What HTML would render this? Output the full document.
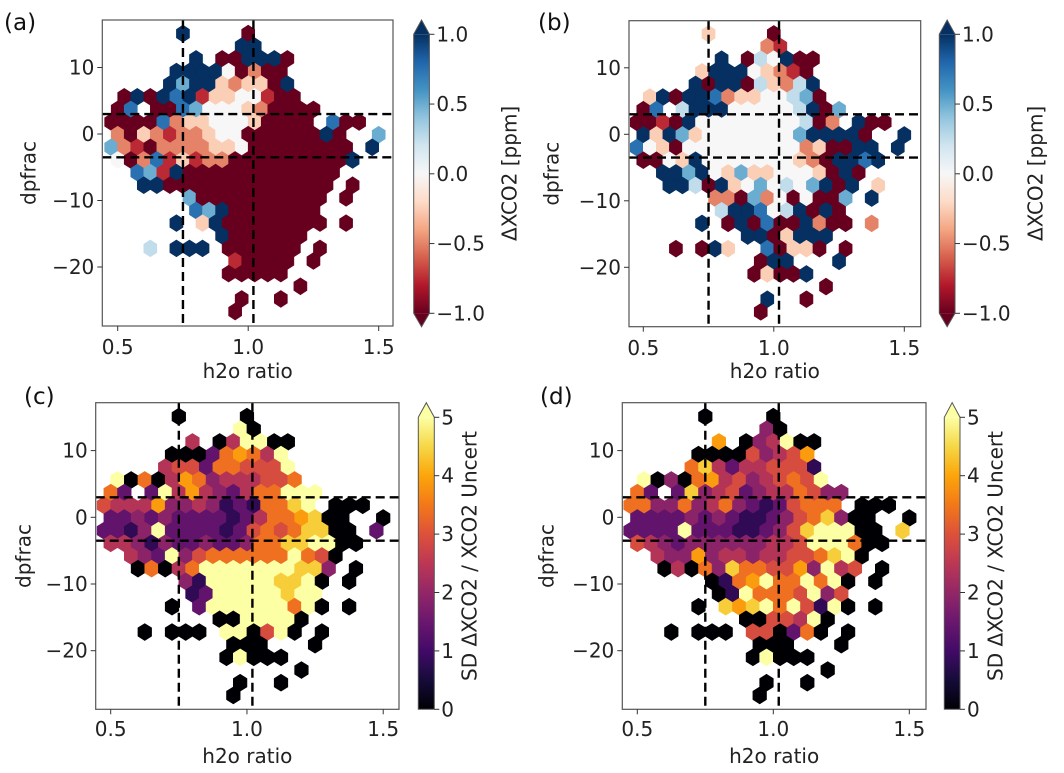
<!DOCTYPE html>
<html><head><meta charset="utf-8">
<style>
html,body{margin:0;padding:0;background:#fff;}
svg{display:block;font-family:"DejaVu Sans","Liberation Sans",sans-serif;}
</style></head>
<body>
<svg id="fig" width="1064" height="773" viewBox="0 0 1064 773" xmlns="http://www.w3.org/2000/svg"></svg>
<script>
// ---- grid definition (hexbin lattice) ----
const gridY0 = 15.1, gridDY = 1.9, gridX0 = 0.75, gridDX = 0.05, gridKMin = -6;
const vLines = [0.75, 1.02];
const hLines = [3, -3.5];
const xTicks = [0.5, 1.0, 1.5];
const xTickLabels = ["0.5", "1.0", "1.5"];
const yTicks = [10, 0, -10, -20];
const yTickLabels = ["10", "0", "\u221210", "\u221220"];
const cbTicksRdBu = [1.0, 0.5, 0.0, -0.5, -1.0];
const cbTickLabelsRdBu = ["1.0", "0.5", "0.0", "\u22120.5", "\u22121.0"];
const cbTicksSD = [5, 4, 3, 2, 1, 0];
const cbTickLabelsSD = ["5", "4", "3", "2", "1", "0"];
const levelsRdBu = [-1, -0.75, -0.5, -0.25, 0, 0.25, 0.5, 0.75, 1];
const levelsSD = [0, 0.8, 1.4, 1.9, 2.4, 2.9, 3.4, 3.9, 4.4, 5];

// ---- hex values per row (row r: y = 15.1 - 1.9 r; column i: k = i-6) ----
const rowsA = [
"......8....0..........",
"..........88..........",
".......8.008880.......",
".....888840200........",
".....8688323308.......",
".08087813344100.......",
".07.0076444320000.....",
"0000723344430000.700..",
".203212234400000080..6",
"6210222233400000000.8.",
".4027131220000000008..",
"..7618000000000000....",
"...880000000000000.0..",
"......60000000000.0...",
".......7680000000.....",
".....8.3800000000.0...",
".........8000000......",
"...5.888.000000.0.....",
"..........10000.0.....",
".........00000........",
"...............0......",
"..........0..0........",
"..........0..........."
];
const rowsB = [
"......3....0..........",
"..........21..........",
".......8.054800.......",
".....388843210........",
".....8088053258.......",
".38088723344560.......",
".07.5888444445806.....",
"0010844444444502.800..",
".838634444444688880..8",
"7430444444444230088.8.",
".0043844444443208878..",
"..8868436334443080....",
"...885083464546808.3..",
"......22062404006.8...",
".......5887458080.....",
".....8.0807008200.2...",
".........8803888......",
"...0.083..70330.0.....",
"..........088...8.....",
".........03008........",
"...............0......",
"..........8..0........",
"..........0..........."
];
const rowsC = [
"......0....0..........",
"..........90..........",
".......4.049900.......",
".....000267649........",
".....4552665559.......",
".90604763444556.......",
".62.2947432466999.....",
"5444733431216689.000..",
".223232222124667800..0",
"2213922221256568800.2.",
".4431322322366889900..",
"..4329356666669650....",
"...060469999999883.0..",
"......31999998890.0...",
".......1299999899.....",
".....0.2999999690.0...",
".........0099990......",
"...0.000.990590.0.....",
"..........000...0.....",
".........09000........",
"...............0......",
"..........0..0........",
"..........0..........."
];
const rowsD = [
"......0....0..........",
"..........30..........",
".......7.034900.......",
".....000053457........",
".....6842445551.......",
".90306745345659.......",
".62.2834523446533.....",
"6633634632125666.000..",
".222232321123568300..0",
"2222922211235899900.8.",
".5432333333445999600..",
"..4337344344556890....",
"...040638665573945.0..",
"......01679669690.0...",
".......0196665935.....",
".....0.8789695190.0...",
".........0055490......",
"...0.000.550260.0.....",
"..........000...0.....",
".........09000........",
"...............0......",
"..........0..0........",
"..........0..........."
];

// ---- colormaps ----
const RDBU = ["#67001f","#b2182b","#d6604d","#f4a582","#fddbc7","#f7f7f7","#d1e5f0","#92c5de","#4393c3","#2166ac","#053061"];
const INFERNO = ["#000004","#160b39","#420a68","#6a176e","#932667","#bc3754","#dd513a","#f37819","#fca50a","#f6d746","#fcffa4"];
function hex2rgb(h){return [parseInt(h.substr(1,2),16),parseInt(h.substr(3,2),16),parseInt(h.substr(5,2),16)];}
function cmap(stops,t){
  t=Math.max(0,Math.min(1,t));
  const p=t*(stops.length-1), i=Math.min(Math.floor(p),stops.length-2), f=p-i;
  const a=hex2rgb(stops[i]), b=hex2rgb(stops[i+1]);
  return "rgb("+a.map((v,j)=>Math.round(v+(b[j]-v)*f)).join(",")+")";
}

const NS="http://www.w3.org/2000/svg";
const fig=document.getElementById('fig');
function mk(tag,attrs,parent){
  const e=document.createElementNS(NS,tag);
  for(const k in attrs) e.setAttribute(k,attrs[k]);
  (parent||fig).appendChild(e);
  return e;
}

const panels=[
 {id:"a",label:"(a)",lx:4,ly:30,rows:rowsA,levels:levelsRdBu,cm:RDBU,vmin:-1,vmax:1,
  L:102.3,R:393,T:20,B:326,x05:117.7,xs:261,y0px:134,ys:6.65,
  cbL:413.7,cbR:429.4,cbTop:34.3,cbBot:313.3,tipTop:20,tipBot:326.7,
  cbTicks:cbTicksRdBu,cbLabels:cbTickLabelsRdBu,cbTitle:"\u0394XCO2 [ppm]",cbTitleX:511,
  yLabX:30,xLabY:378,xTickY:354},
 {id:"b",label:"(b)",lx:538,ly:30,rows:rowsB,levels:levelsRdBu,cm:RDBU,vmin:-1,vmax:1,
  L:629,R:920.7,T:20.7,B:326.7,x05:643.3,xs:261,y0px:134.3,ys:6.65,
  cbL:939.3,cbR:955,cbTop:34.3,cbBot:313.3,tipTop:20,tipBot:326.7,
  cbTicks:cbTicksRdBu,cbLabels:cbTickLabelsRdBu,cbTitle:"\u0394XCO2 [ppm]",cbTitleX:1037,
  yLabX:553,xLabY:378,xTickY:355},
 {id:"c",label:"(c)",lx:24,ly:404,rows:rowsC,levels:levelsSD,cm:INFERNO,vmin:0,vmax:5,
  L:95.7,R:399,T:402.7,B:709.3,x05:110.7,xs:272.5,y0px:517.3,ys:6.67,
  cbL:418.3,cbR:434.3,cbTop:417.3,cbBot:709.3,tipTop:402.7,tipBot:null,
  cbTicks:cbTicksSD,cbLabels:cbTickLabelsSD,cbTitle:"SD \u0394XCO2 / XCO2 Uncert",cbTitleX:471,
  yLabX:25,xLabY:763,xTickY:736},
 {id:"d",label:"(d)",lx:540,ly:404,rows:rowsD,levels:levelsSD,cm:INFERNO,vmin:0,vmax:5,
  L:622.3,R:926,T:402.7,B:709.3,x05:637.3,xs:272,y0px:517.3,ys:6.67,
  cbL:944.3,cbR:960,cbTop:417.3,cbBot:709.3,tipTop:402.7,tipBot:null,
  cbTicks:cbTicksSD,cbLabels:cbTickLabelsSD,cbTitle:"SD \u0394XCO2 / XCO2 Uncert",cbTitleX:997,
  yLabX:548,xLabY:763,xTickY:736}
];

panels.forEach(P=>{
  const sx=x=>P.x05+(x-0.5)*P.xs;
  const sy=y=>P.y0px-y*P.ys;
  const g=mk('g',{});
  
  
  const cp=mk('clipPath',{id:'clip-'+P.id},g);
  mk('rect',{x:P.L,y:P.T,width:P.R-P.L,height:P.B-P.T},cp);
  const hexG=mk('g',{'clip-path':'url(#clip-'+P.id+')'},g);
  
  
  const hw=(sx(gridDX)-sx(0))/2, hv=(sy(0)-sy(gridDY))*2/3;
  P.rows.forEach((row,r)=>{
    const yv=gridY0-gridDY*r;
    for(let i=0;i<row.length;i++){
      const ch=row[i]; if(ch==='.') continue;
      const k=i+gridKMin;
      const xv=gridX0+gridDX*k+(r%2?gridDX/2:0);
      const val=P.levels[parseInt(ch,10)];
      const col=cmap(P.cm,(val-P.vmin)/(P.vmax-P.vmin));
      const cx=sx(xv), cy=sy(yv);
      const pts=[[cx,cy-hv],[cx+hw,cy-hv/2],[cx+hw,cy+hv/2],[cx,cy+hv],[cx-hw,cy+hv/2],[cx-hw,cy-hv/2]]
        .map(p=>p[0].toFixed(2)+","+p[1].toFixed(2)).join(" ");
      const h=mk('polygon',{points:pts,fill:col,stroke:col,'stroke-width':0.6},hexG);
      
      
    }
  });
  vLines.forEach(v=>{
    const l=mk('line',{x1:sx(v),x2:sx(v),y1:P.T,y2:P.B,stroke:'#000','stroke-width':2.4,'stroke-dasharray':'9,5'},g);
    
    
  });
  hLines.forEach(v=>{
    const l=mk('line',{x1:P.L,x2:P.R,y1:sy(v),y2:sy(v),stroke:'#000','stroke-width':2.4,'stroke-dasharray':'9,5'},g);
    
    
  });
  const fr=mk('rect',{x:P.L,y:P.T,width:P.R-P.L,height:P.B-P.T,fill:'none',stroke:'#555','stroke-width':1.2},g);
  
  
  xTicks.forEach((t,j)=>{
    mk('line',{x1:sx(t),x2:sx(t),y1:P.B,y2:P.B+5,stroke:'#333','stroke-width':1},g);
    const tx=mk('text',{x:sx(t),y:P.xTickY,'font-size':20,'text-anchor':'middle',fill:'#222'},g);
    tx.textContent=xTickLabels[j];
    
    
  });
  yTicks.forEach((t,j)=>{
    mk('line',{x1:P.L-5,x2:P.L,y1:sy(t),y2:sy(t),stroke:'#333','stroke-width':1},g);
    const tx=mk('text',{x:P.L-8,y:sy(t)+7,'font-size':20,'text-anchor':'end',fill:'#222'},g);
    tx.textContent=yTickLabels[j];
    
    
  });
  const xl=mk('text',{x:(P.L+P.R)/2,y:P.xLabY,'font-size':20,'text-anchor':'middle',fill:'#222'},g);
  xl.textContent='h2o ratio';
  
  
  const cyMid=(P.T+P.B)/2;
  const yl=mk('text',{x:P.yLabX,y:cyMid,'font-size':20,'text-anchor':'middle',fill:'#222',transform:'rotate(-90 '+P.yLabX+' '+cyMid+')','dominant-baseline':'middle'},g);
  yl.textContent='dpfrac';
  
  
  const pl=mk('text',{x:P.lx,y:P.ly,'font-size':23,fill:'#111'},g);
  pl.textContent=P.label;
  
  
  const gid='grad-'+P.id;
  const grad=mk('linearGradient',{id:gid,x1:0,y1:1,x2:0,y2:0},g);
  for(let s=0;s<=20;s++){mk('stop',{offset:(s/20),'stop-color':cmap(P.cm,s/20)},grad);}
  const cb=mk('g',{},g);
  
  
  mk('rect',{x:P.cbL,y:P.cbTop,width:P.cbR-P.cbL,height:P.cbBot-P.cbTop,fill:'url(#'+gid+')'},cb);
  const mx=(P.cbL+P.cbR)/2;
  mk('polygon',{points:P.cbL+','+P.cbTop+' '+P.cbR+','+P.cbTop+' '+mx+','+P.tipTop,fill:cmap(P.cm,1)},cb);
  let outline=P.cbL+','+P.cbTop+' '+mx+','+P.tipTop+' '+P.cbR+','+P.cbTop+' '+P.cbR+','+P.cbBot;
  if(P.tipBot!==null){
    mk('polygon',{points:P.cbL+','+P.cbBot+' '+P.cbR+','+P.cbBot+' '+mx+','+P.tipBot,fill:cmap(P.cm,0)},cb);
    outline+=' '+mx+','+P.tipBot;
  }
  outline+=' '+P.cbL+','+P.cbBot;
  mk('polygon',{points:outline,fill:'none',stroke:'#555','stroke-width':1},cb);
  const cs=v=>P.cbBot-(v-P.vmin)/(P.vmax-P.vmin)*(P.cbBot-P.cbTop);
  P.cbTicks.forEach((t,j)=>{
    mk('line',{x1:P.cbR,x2:P.cbR+5,y1:cs(t),y2:cs(t),stroke:'#333','stroke-width':1},cb);
    const tx=mk('text',{x:P.cbR+7,y:cs(t)+7,'font-size':20,fill:'#222'},cb);
    tx.textContent=P.cbLabels[j];
    
    
  });
  const cyc=(P.tipTop+(P.tipBot||P.cbBot))/2;
  const ct=mk('text',{x:P.cbTitleX,y:cyc,'font-size':20,'text-anchor':'middle','dominant-baseline':'middle',fill:'#222',transform:'rotate(-90 '+P.cbTitleX+' '+cyc+')'},cb);
  ct.textContent=P.cbTitle;
  
  
});
</script>
</body></html>
